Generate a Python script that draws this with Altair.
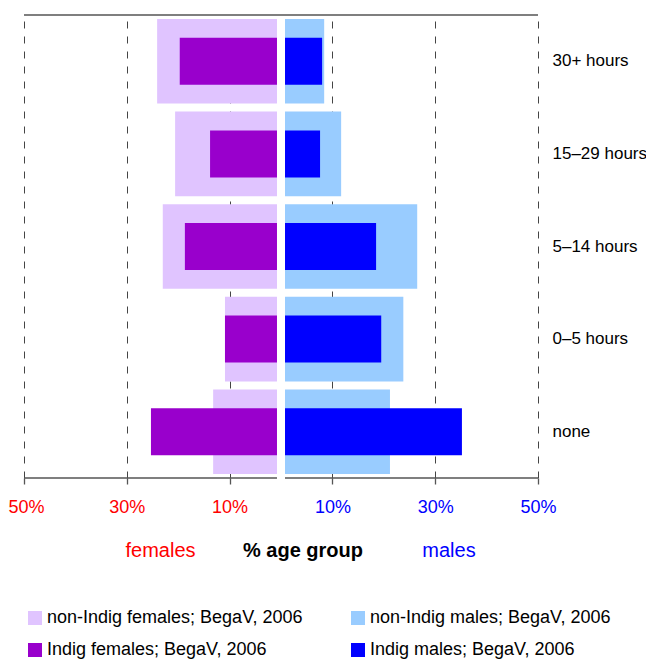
import altair as alt
import pandas as pd

# ---------------- data ----------------
categories = ["30+ hours", "15–29 hours", "5–14 hours", "0–5 hours", "none"]
non_indig_females = [24.1, 20.6, 23.0, 10.9, 13.2]
indig_females = [19.7, 13.8, 18.7, 10.9, 25.3]
non_indig_males = [8.4, 11.7, 26.5, 23.8, 21.2]
indig_males = [8.0, 7.6, 18.5, 19.5, 35.2]

# legend order (filled column by column)
series_names = [
    "non-Indig females; BegaV, 2006",
    "Indig females; BegaV, 2006",
    "non-Indig males; BegaV, 2006",
    "Indig males; BegaV, 2006",
]
series_colors = ["#E0C4FF", "#9900CC", "#99CCFF", "#0000FF"]
tick_values = [-50, -30, -10, 10, 30, 50]

rows = []
for name, vals, sex, group in [
    (series_names[0], non_indig_females, "F", "non"),
    (series_names[2], non_indig_males, "M", "non"),
    (series_names[1], indig_females, "F", "ind"),
    (series_names[3], indig_males, "M", "ind"),
]:
    for c, v in zip(categories, vals):
        rows.append({"hours": c, "value": v, "series": name, "sex": sex, "group": group})
df = pd.DataFrame(rows)

# ---------------- style ----------------
GAP = 0.78          # half-gap between the two halves, in % units
W, H = 514, 463
FONT = "Liberation Sans"
DOMAIN = [-50, 50]

xscale = alt.Scale(domain=DOMAIN, nice=False, zero=False)
yscale = alt.Scale(paddingInner=0.086, paddingOuter=0.043)

x_axis = alt.Axis(
    values=tick_values,
    labelExpr="abs(datum.value) + '%'",
    labelColor={"condition": {"test": "datum.value < 0", "value": "#FF0000"}, "value": "#0000FF"},
    labelOffset={"condition": {"test": f"datum.value == {DOMAIN[0]}", "value": 2}, "value": 0},
    labelFont=FONT,
    labelFontSize=18,
    labelBaseline="middle",
    labelPadding=23.5,
    labelFlush=False,
    labelOverlap=False,
    grid=True,
    gridDash=[7, 8],
    gridColor="#444444",
    gridWidth=1,
    gridOpacity=1,
    domain=False,
    ticks=True,
    tickSize=6,
    tickColor="#555555",
    tickWidth=1.3,
    title=None,
)
y_axis = alt.Axis(
    orient="right",
    ticks=False,
    domain=False,
    grid=False,
    labelPadding=14,
    labelFont=FONT,
    labelFontSize=17,
    labelColor="black",
    labelAlign="left",
    labelBaseline="middle",
    title=None,
)

legend = alt.Legend(
    title=None,
    orient="none",
    legendX=2,
    legendY=594,
    columns=2,
    symbolType="square",
    symbolSize=196,
    symbolStrokeWidth=0,
    symbolOpacity=1,
    labelFont=FONT,
    labelFontSize=18,
    labelColor="black",
    labelOffset=3,
    labelLimit=500,
    columnPadding=46,
    rowPadding=14,
    padding=0,
)

base = alt.Chart(df).transform_calculate(
    sign="datum.sex == 'F' ? -1 : 1"
).transform_calculate(
    xv="datum.sign * datum.value",
    x0=f"datum.sign * {GAP}",
)

enc = dict(
    x=alt.X("xv:Q", scale=xscale, axis=x_axis),
    x2="x0:Q",
    y=alt.Y("hours:N", sort=categories, scale=yscale, axis=y_axis),
    color=alt.Color("series:N", scale=alt.Scale(domain=series_names, range=series_colors), legend=legend),
)

outer = base.transform_filter("datum.group == 'non'").mark_bar(opacity=1).encode(**enc)
inner = base.transform_filter("datum.group == 'ind'").mark_bar(size=47, opacity=1).encode(**enc)

# frame lines
top_df = pd.DataFrame({"a": [DOMAIN[0]], "b": [DOMAIN[1]]})
bot_df = pd.DataFrame({"a": [DOMAIN[0], GAP], "b": [-GAP, DOMAIN[1]]})

top_line = alt.Chart(top_df).mark_rule(color="black", strokeWidth=1.2).encode(
    x=alt.X("a:Q", scale=xscale, axis=x_axis), x2="b:Q", y=alt.value(0)
)
bot_line = alt.Chart(bot_df).mark_rule(color="#555555", strokeWidth=1.5).encode(
    x=alt.X("a:Q", scale=xscale, axis=x_axis), x2="b:Q", y=alt.value(H)
)

def label(text, x, color, bold=False):
    return alt.Chart(pd.DataFrame({"t": [text]})).mark_text(
        font=FONT, fontSize=20, color=color, fontWeight="bold" if bold else "normal",
        align="center", baseline="middle",
    ).encode(text="t:N", x=alt.value(x), y=alt.value(535.7))

t_f = label("females", 136.5, "#FF0000")
t_m = label("% age group", 279, "black", bold=True)
t_ma = label("males", 425, "#0000FF")

chart = alt.layer(outer, inner, top_line, bot_line, t_f, t_m, t_ma).properties(
    width=W,
    height=H,
    padding={"left": 16, "top": 7, "right": 108, "bottom": 181},
    autosize="none",
    background="white",
).configure_view(stroke=None)

chart.save("out.html", embed_options={"renderer": "svg", "actions": False})
